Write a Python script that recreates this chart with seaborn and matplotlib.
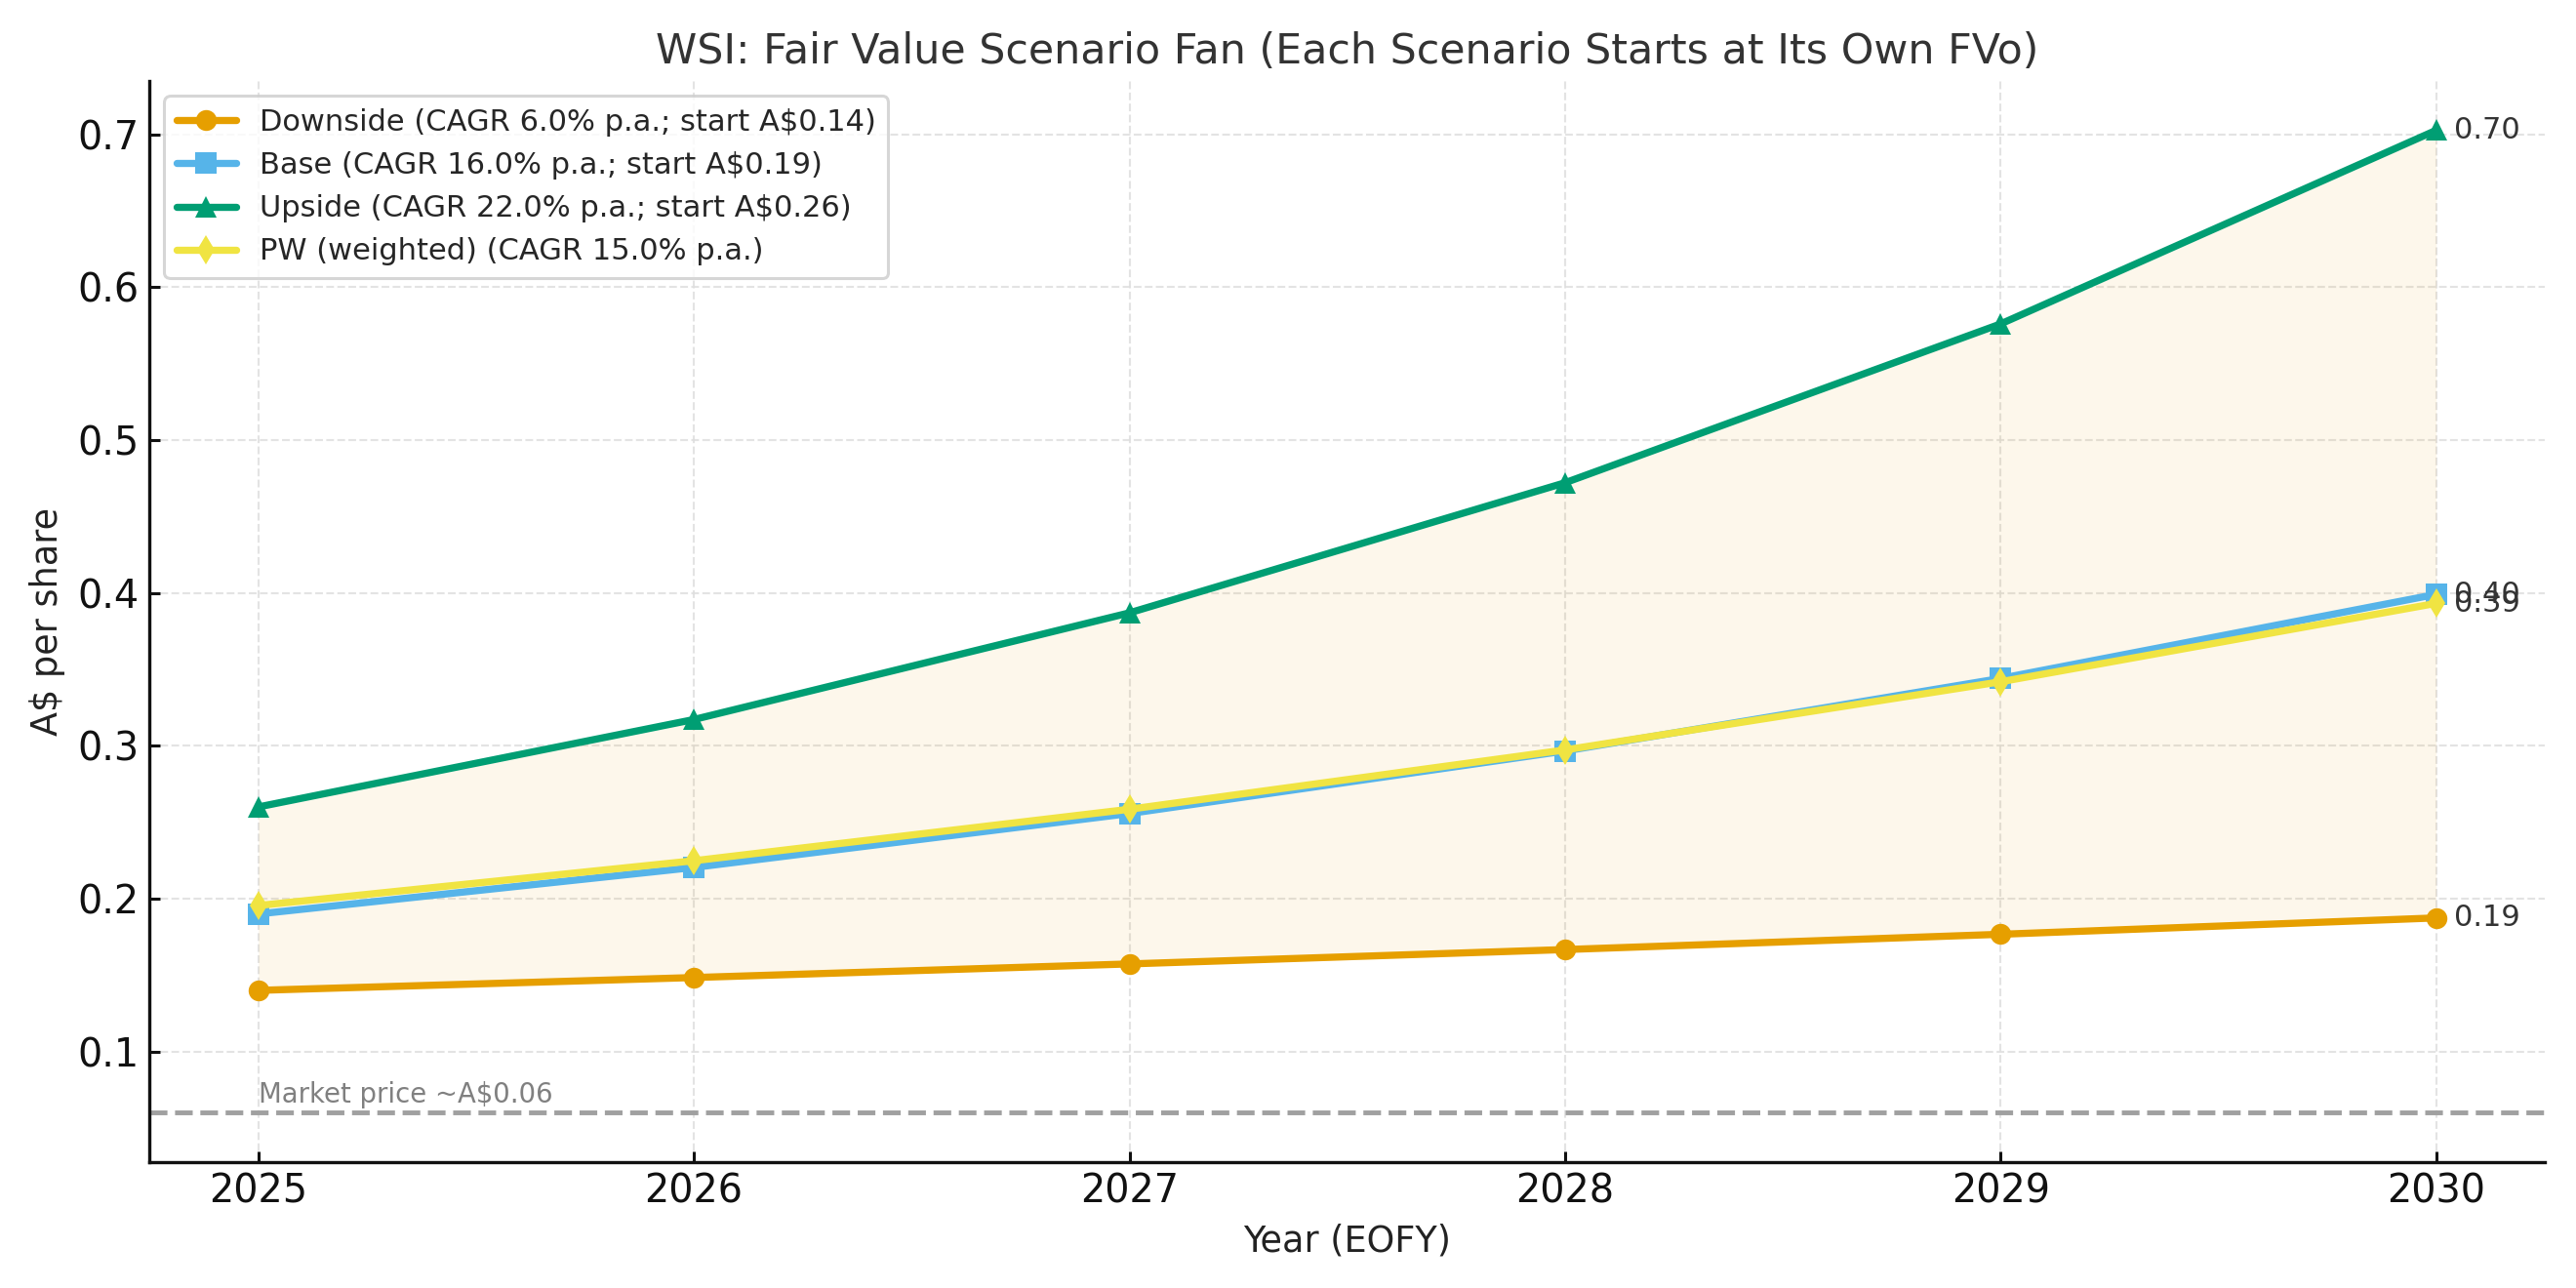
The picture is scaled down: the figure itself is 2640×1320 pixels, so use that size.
import matplotlib
matplotlib.use("Agg")
import matplotlib.pyplot as plt
import seaborn as sns
import pandas as pd

# Scenario values (A$ per share, EOFY)
years = [2025, 2026, 2027, 2028, 2029, 2030]
downside = [0.140, 0.1484, 0.1573, 0.1667, 0.1767, 0.1874]
base = [0.190, 0.2204, 0.2557, 0.2966, 0.3441, 0.3991]
upside = [0.260, 0.3172, 0.3870, 0.4721, 0.5760, 0.7027]
pw = [0.1955, 0.2248, 0.2585, 0.2973, 0.3419, 0.3932]
market_price = 0.06

labels = [
    "Downside (CAGR 6.0% p.a.; start A$0.14)",
    "Base (CAGR 16.0% p.a.; start A$0.19)",
    "Upside (CAGR 22.0% p.a.; start A$0.26)",
    "PW (weighted) (CAGR 15.0% p.a.)",
]
colors = ["#E69F00", "#56B4E9", "#009E73", "#F0E442"]
markers = ["o", "s", "^", "d"]

sns.set_theme(style="white")
plt.rcParams["font.family"] = ["DejaVu Sans"]

fig, ax = plt.subplots(figsize=(12, 6), dpi=220)

# Shaded fan between downside and upside
ax.fill_between(years, downside, upside, color="#E69F00", alpha=0.08, linewidth=0)

series = [downside, base, upside, pw]
for vals, lab, col, mk in zip(series, labels, colors, markers):
    df = pd.DataFrame({"Year": years, "Value": vals})
    sns.lineplot(data=df, x="Year", y="Value", ax=ax, color=col, marker=mk,
                 markersize=7, markeredgewidth=0, linewidth=2.4, label=lab)
    ax.annotate(f"{vals[-1]:.2f}", xy=(years[-1], vals[-1]),
                xytext=(6, 0), textcoords="offset points",
                va="center", ha="left", fontsize=10, color="#333333")

ax.axhline(market_price, color="#a0a0a0", linestyle="--", linewidth=1.6)
ax.text(years[0], market_price + 0.003, "Market price ~A$0.06",
        fontsize=9, color="#808080", va="bottom", ha="left")

ax.set_title("WSI: Fair Value Scenario Fan (Each Scenario Starts at Its Own FVo)",
             fontsize=14, color="#333333")
ax.set_xlabel("Year (EOFY)", fontsize=12, color="#222222")
ax.set_ylabel("A$ per share", fontsize=12, color="#222222")
ax.set_xticks(years)
ax.tick_params(labelsize=13, colors="#111111", length=3.5, width=1.0,
               pad=3.5, bottom=True, left=True, direction="in")
ax.grid(True, linestyle="--", linewidth=0.7, color="#dddddd", alpha=0.8)
sns.despine(ax=ax)
for sp in ["left", "bottom"]:
    ax.spines[sp].set_color("#111111")
    ax.spines[sp].set_linewidth(1.1)

ax.legend(loc="upper left", fontsize=10, frameon=True)

fig.subplots_adjust(left=0.058, right=0.988, top=0.937, bottom=0.098)
plt.savefig("out.png", dpi=220)
